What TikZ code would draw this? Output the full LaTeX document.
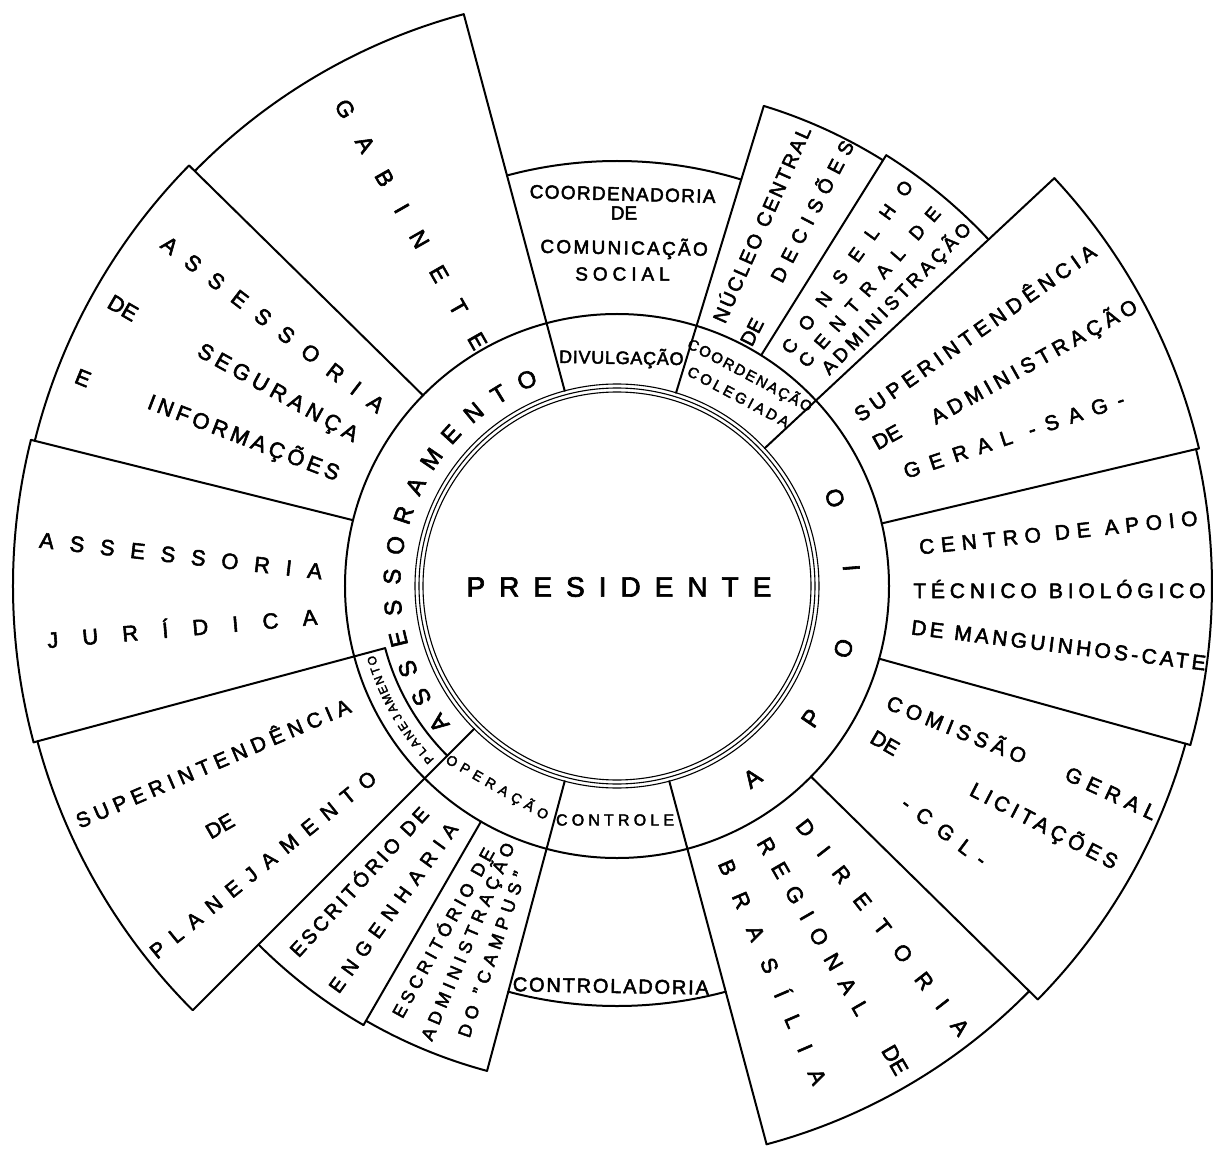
\documentclass[tikz,border=0pt]{standalone}
\usepackage{fontspec}
\setmainfont{Liberation Sans}[FakeBold=2.5]
\newcommand\lsx[3]{{\fontsize{#1pt}{#1pt}\selectfont\addfontfeatures{LetterSpace=#2}\spaceskip=\dimexpr0.35em+#1pt*#2/100\relax#3\kern-\dimexpr#1pt*#2/100\relax}}
\newcommand\fsx[2]{{\fontsize{#1pt}{#1pt}\selectfont#2}}
\begin{document}
\begin{tikzpicture}[x=1pt,y=1pt,line cap=round,line join=round,
  bline/.style={line width=2pt},
  tline/.style={line width=1.1pt},
  lab/.style={inner sep=0pt,outer sep=0pt,anchor=center}]
\useasboundingbox (-617,-565) rectangle (597,586);
% central triple circle and ring
\draw[tline] (0,0) circle[radius=202pt];
\draw[tline] (0,0) circle[radius=198pt];
\draw[tline] (0,0) circle[radius=194pt];
\draw[bline] (0,0) circle[radius=272pt];
% planejamento inner arc
\draw[bline] (195:240) arc[start angle=195,end angle=225,radius=240pt];
% radial boundaries
\foreach \av/\ri/\ro in {105/202/592, 135.5/272/600, 166/272/604, 195/240/604,
  225/202/600, 240/272/507, 255/202/502, 285/202/578, 315.5/272/590,
  344.5/272/595, 13.3/272/598, 43/202/598, 58/272/508, 73/202/502}
  \draw[bline] (\av:\ri) -- (\av:\ro);
% outer arcs
\foreach \sv/\ev/\rv in {105/135.5/592, 135.5/166/600, 166/195/604, 195/225/600,
  225/240/507, 240/255/502, 255/285/420, 285/315.5/578, 315.5/344.5/590,
  344.5/373.3/595, 13.3/43/598, 43/58/508, 58/73/502, 73/105/425}
  \draw[bline] (\sv:\rv) arc[start angle=\sv,end angle=\ev,radius=\rv pt];

% centre
\node[lab] (pres) at (-5,-1) {\lsx{28}{50}{PRESIDENTE}};

% ASSESSORAMENTO ring text
\foreach \letr [count=\i] in {A,S,S,E,S,S,O,R,A,M,E,N,T,O}{
  \pgfmathsetmacro\angv{217.6-8*(\i-1)}
  \pgfmathsetmacro\rotv{\angv-90}
  \node[lab,rotate=\rotv] (asm\i) at (\angv:225) {\fsx{24}{\letr}};
}
% APOIO ring text
\foreach \letr/\angv [count=\i] in {A/-54.8,P/-34.2,O/-15.4,I/4.4,O/22}{
  \pgfmathsetmacro\rotv{\angv+90}
  \node[lab,rotate=\rotv] (apo\i) at (\angv:235) {\fsx{24}{\letr}};
}
% PLANEJAMENTO small sector
\foreach \letr [count=\i] in {P,L,A,N,E,J,A,M,E,N,T,O}{
  \pgfmathsetmacro\angv{222.6-2.33*(\i-1)}
  \pgfmathsetmacro\rotv{\angv-90}
  \node[lab,rotate=\rotv] (pla\i) at (\angv:256) {\fsx{12}{\letr}};
}

% small ring sectors
\node[lab,rotate=-1] (div) at (4,228) {\lsx{18}{4}{DIVULGAÇÃO}};
\node[lab,rotate=-28] (cco1) at (132,211) {\lsx{15}{13}{COORDENAÇÃO}};
\node[lab,rotate=-28] (cco2) at (120,190) {\lsx{15}{21}{COLEGIADA}};
\node[lab,rotate=-30] (ope) at (-122,-200) {\lsx{14}{37}{OPERAÇÃO}};
\node[lab] (ctl) at (-4,-234) {\lsx{16}{26}{CONTROLE}};

% coordenadoria de comunicacao social
\node[lab,rotate=-1.5] (ccs1) at (5,392) {\lsx{19}{7}{COORDENADORIA}};
\node[lab] (ccs2) at (7,373) {\fsx{19}{DE}};
\node[lab,rotate=-1] (ccs3) at (6,338) {\lsx{19}{12}{COMUNICAÇÃO}};
\node[lab] (ccs4) at (3,312) {\lsx{19}{26}{SOCIAL}};

% controladoria
\node[lab,rotate=-1] (ctr) at (-7,-400) {\lsx{20}{9}{CONTROLADORIA}};

% nucleo central de decisoes
\node[lab,rotate=66] (nuc1) at (143,361) {\lsx{20}{12}{NÚCLEO CENTRAL}};
\node[lab,rotate=63] (nuc2) at (135,254) {\fsx{20}{DE}};
\node[lab,rotate=62.4] (nuc3) at (192,372) {\lsx{20}{38}{DECISÕES}};

% conselho central de administracao
\node[lab,rotate=54] (con1) at (226,313) {\lsx{19}{77}{CONSELHO}};
\node[lab,rotate=49] (con2) at (249,295) {\lsx{19}{55}{CENTRAL DE}};
\node[lab,rotate=45.5] (con3) at (278,286) {\lsx{19}{20}{ADMINISTRAÇÃO}};

% SAG
\node[lab,rotate=35.2] (sag1) at (355,253) {\lsx{21}{24}{SUPERINTENDÊNCIA}};
\node[lab,rotate=29] (sag2) at (270,149) {\fsx{21}{DE}};
\node[lab,rotate=29.3] (sag3) at (415,223) {\lsx{21}{23}{ADMINISTRAÇÃO}};
\node[lab,rotate=18.5] (sag4) at (392,149) {\lsx{21}{50}{GERAL -SAG-}};

% CATE
\node[lab,rotate=6] (cat1) at (438,53) {\lsx{21}{32}{CENTRO DE APOIO}};
\node[lab] (cat2) at (440,-3) {\lsx{21}{23}{TÉCNICO BIOLÓGICO}};
\node[lab,rotate=-7] (cat3) at (440,-59) {\lsx{21}{16}{DE MANGUINHOS-CATE}};

% CGL
\node[lab,rotate=-22] (cgl1) at (338,-141) {\lsx{21}{24}{COMISSÃO}};
\node[lab,rotate=-25] (cgl2) at (491,-206) {\lsx{21}{32}{GERAL}};
\node[lab,rotate=-30] (cgl3) at (268,-157) {\fsx{21}{DE}};
\node[lab,rotate=-27.4] (cgl4) at (425,-239) {\lsx{21}{21}{LICITAÇÕES}};
\node[lab,rotate=-37] (cgl5) at (323,-242) {\lsx{21}{52}{-CGL-}};

% diretoria regional de brasilia
\node[lab,rotate=-52.2] (dir1) at (260,-334) {\lsx{22}{84}{DIRETORIA}};
\node[lab,rotate=-60] (dir2) at (193,-335) {\lsx{22}{57}{REGIONAL}};
\node[lab,rotate=-60] (dir3) at (278,-474) {\fsx{22}{DE}};
\node[lab,rotate=-66.8] (dir4) at (153,-376) {\lsx{22}{93}{BRASÍLIA}};

% gabinete
\node[lab,rotate=-60.3] (gab) at (-212,372) {\lsx{23}{104}{GABINETE}};

% assessoria de seguranca e informacoes
\node[lab,rotate=-37.5] (seg1) at (-350,266) {\lsx{22}{67}{ASSESSORIA}};
\node[lab,rotate=-30] (seg2) at (-494,278) {\fsx{22}{DE}};
\node[lab,rotate=-29] (seg3) at (-342,193) {\lsx{22}{23}{SEGURANÇA}};
\node[lab,rotate=-22] (seg4) at (-534,208) {\fsx{22}{E}};
\node[lab,rotate=-21] (seg5) at (-375,149) {\lsx{22}{18}{INFORMAÇÕES}};

% assessoria juridica
\node[lab,rotate=-6.4] (jur1) at (-444,31) {\lsx{22}{72}{ASSESSORIA}};
\node[lab,rotate=5] (jur2) at (-447,-42) {\lsx{22}{110}{JURÍDICA}};

% superintendencia de planejamento
\node[lab,rotate=23.2] (spl1) at (-407,-177) {\lsx{21}{26}{SUPERINTENDÊNCIA}};
\node[lab,rotate=30] (spl2) at (-397,-240) {\fsx{21}{DE}};
\node[lab,rotate=39] (spl3) at (-358,-282) {\lsx{21}{50}{PLANEJAMENTO}};

% escritorio de engenharia
\node[lab,rotate=47.5] (eng1) at (-260,-296) {\lsx{20}{16}{ESCRITÓRIO DE}};
\node[lab,rotate=54] (eng2) at (-226,-325) {\lsx{20}{40}{ENGENHARIA}};

% escritorio de administracao do campus
\node[lab,rotate=61] (adm1) at (-176,-348) {\lsx{18}{24}{ESCRITÓRIO DE}};
\node[lab,rotate=67] (adm2) at (-150,-358) {\lsx{18}{29}{ADMINISTRAÇÃO}};
\node[lab,rotate=71] (adm3) at (-126,-371) {\lsx{18}{32}{DO "CAMPUS"}};
\end{tikzpicture}
\end{document}
